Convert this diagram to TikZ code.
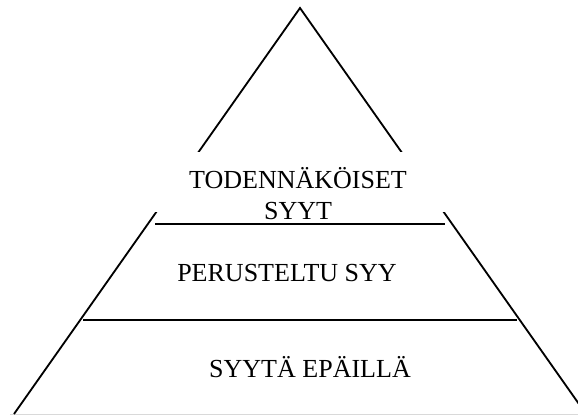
\documentclass[tikz,border=0pt]{standalone}
\usepackage{fontspec}
\setmainfont{Liberation Serif}
\begin{document}
\begin{tikzpicture}[x=0.025cm, y=-0.025cm,
    lvl/.style={inner sep=0pt, align=center, text depth=0pt, font=\fontsize{18.5}{22}\selectfont},
    edge/.style={line width=1.3pt}]
    \useasboundingbox (0,0) rectangle (578,416);
    \clip (0,0) rectangle (578,416);
    \coordinate (apex) at (300,8);
    \coordinate (footL) at (14,414);
    \coordinate (footR) at (586,414);
    \draw[gray!30, line width=0.6pt] (10,414) -- (578,414);
    \draw[edge] (footL) -- (apex) -- (footR);
    % white text box hides the sides
    \fill[white] (150,152) rectangle (450,212);
    \coordinate (topL) at (155,224);
    \coordinate (topR) at (445,224);
    \coordinate (midL) at (83,320);
    \coordinate (midR) at (517,320);
    \draw[edge] (topL) -- (topR);
    \draw[edge] (midL) -- (midR);
    \node[lvl, anchor=south] (likely) at (298,220) {TODENN\"AK\"OISET\\SYYT};
    \node[lvl, anchor=base] (grounded) at (287,281) {PERUSTELTU SYY};
    \node[lvl, anchor=base] (suspect) at (310,377) {SYYT\"A EP\"AILL\"A};
\end{tikzpicture}
\end{document}
